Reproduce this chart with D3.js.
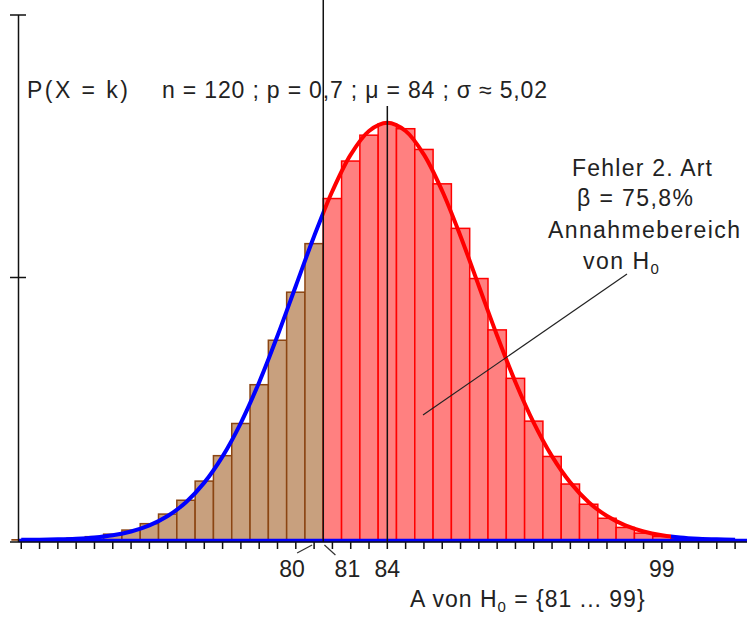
<!DOCTYPE html>
<html>
<head>
<meta charset="utf-8">
<script src="https://cdn.jsdelivr.net/npm/d3@7"></script>
<style>
  body { margin: 0; background: #fff; }
  svg { display: block; font-family: "Liberation Sans", Arial, sans-serif; }
  .lbl { font-size: 23px; fill: #222; }
</style>
</head>
<body>
<script>
(function(){
  //values of k (n = 120, p = 0.7)
  var kValues = [64, 65, 66, 67, 68, 69, 70, 71, 72, 73, 74, 75, 76, 77, 78, 79, 80, 81, 82, 83,
                 84, 85, 86, 87, 88, 89, 90, 91, 92, 93, 94, 95, 96, 97, 98, 99, 100, 101, 102, 103];
  //P(X = k), bar heights
  var pValues = [0.0000473, 0.0000951, 0.000185, 0.000348, 0.000633, 0.001112, 0.001891, 0.003108,
                 0.004935, 0.007572, 0.01122, 0.01606, 0.02219, 0.02958, 0.03805, 0.04720, 0.05645,
                 0.06504, 0.07218, 0.07711, 0.07925, 0.07834, 0.07439, 0.06784, 0.05936, 0.04980,
                 0.04002, 0.03079, 0.02264, 0.01591, 0.01066, 0.006809, 0.004137, 0.002389, 0.001308,
                 0.000678, 0.000332, 0.000154, 0.0000668, 0.0000272];
  //normal curve (mu = 84, sigma = 5.02) at each k
  var curveValues = [0.0000284, 0.0000615, 0.000128, 0.000257, 0.000494, 0.000915, 0.00163, 0.00278,
                     0.00456, 0.00720, 0.01093, 0.01593, 0.02232, 0.03006, 0.03890, 0.04839, 0.05785,
                     0.06647, 0.07341, 0.07791, 0.07947, 0.07791, 0.07341, 0.06647, 0.05785, 0.04839,
                     0.03890, 0.03006, 0.02232, 0.01593, 0.01093, 0.00720, 0.00456, 0.00278, 0.00163,
                     0.000915, 0.000494, 0.000257, 0.000128, 0.0000615];
  var yTicks = [0.05, 0.1];
  var xLabels = [80, 81, 84, 99];
  var acceptLow = 81, acceptHigh = 99, mu = 84;

  var width = 747, height = 617;

  var x = d3.scaleLinear().domain([63.85, 103.65]).range([18.5, 747]);
  var y = d3.scaleLinear().domain([0, 0.1]).range([540, 15]);
  var unit = x(1) - x(0);

  var svg = d3.select("body")
      .append("svg")
      .attr("width", width)
      .attr("height", height);

  svg.append("rect").attr("width", width).attr("height", height).attr("fill", "#fff");

  var data = kValues.map(function(k, i){ return {k: k, p: pValues[i], f: curveValues[i]}; });

  //bars, brown below the acceptance region, red inside
  svg.selectAll(".bar")
      .data(data)
      .enter()
      .append("rect")
      .attr("class", "bar")
      .attr("x", function(d){ return x(d.k - 0.5); })
      .attr("width", unit)
      .attr("y", function(d){ return y(d.p); })
      .attr("height", function(d){ return y(0) - y(d.p); })
      .attr("fill", function(d){ return d.k < acceptLow ? "#c8a07e" : "#ff8080"; })
      .attr("stroke", function(d){ return d.k < acceptLow ? "#8b4513" : "#ff0000"; })
      .attr("stroke-width", 1.5);

  //blue baseline along the axis
  svg.append("line")
      .attr("x1", x(63.85)).attr("x2", x(103.65))
      .attr("y1", y(0) + 0.5).attr("y2", y(0) + 0.5)
      .attr("stroke", "#0000ff")
      .attr("stroke-width", 3.5);

  //curve, clipped in three parts
  var defs = svg.append("defs");
  var parts = [
      {id: "clipL", from: 63.85, to: acceptLow - 0.5, color: "#0000ff"},
      {id: "clipM", from: acceptLow - 0.5, to: acceptHigh + 0.5, color: "#ff0000"},
      {id: "clipR", from: acceptHigh + 0.5, to: 103.65, color: "#0000ff"}
  ];
  var line = d3.line()
      .x(function(d){ return x(d.k); })
      .y(function(d){ return y(d.f); })
      .curve(d3.curveCatmullRom);

  parts.forEach(function(pt){
      defs.append("clipPath").attr("id", pt.id)
          .append("rect")
          .attr("x", x(pt.from)).attr("y", 0)
          .attr("width", x(pt.to) - x(pt.from)).attr("height", height);
      svg.append("path")
          .datum(data)
          .attr("d", line)
          .attr("clip-path", "url(#" + pt.id + ")")
          .attr("fill", "none")
          .attr("stroke", pt.color)
          .attr("stroke-width", 4)
          .attr("stroke-linejoin", "round");
  });

  //x axis with a tick at every k
  var xAxis = svg.append("g")
      .attr("transform", "translate(0," + 542 + ")");
  xAxis.append("line")
      .attr("x1", 10).attr("x2", width)
      .attr("stroke", "#111").attr("stroke-width", 1.5);
  xAxis.selectAll(".xt")
      .data(kValues)
      .enter()
      .append("line")
      .attr("class", "xt")
      .attr("x1", function(d){ return x(d); })
      .attr("x2", function(d){ return x(d); })
      .attr("y1", 0).attr("y2", 7)
      .attr("stroke", "#111").attr("stroke-width", 1.5);

  //y axis
  var yAxis = svg.append("g");
  yAxis.append("line")
      .attr("x1", x(63.85)).attr("x2", x(63.85))
      .attr("y1", y(0.1)).attr("y2", 542)
      .attr("stroke", "#111").attr("stroke-width", 1.5);
  yAxis.selectAll(".yt")
      .data(yTicks)
      .enter()
      .append("line")
      .attr("x1", 10).attr("x2", 26)
      .attr("y1", function(d){ return y(d); })
      .attr("y2", function(d){ return y(d); })
      .attr("stroke", "#111").attr("stroke-width", 1.5);

  //boundary of the acceptance region and the mean
  svg.append("line")
      .attr("x1", x(acceptLow - 0.5)).attr("x2", x(acceptLow - 0.5))
      .attr("y1", 0).attr("y2", 542)
      .attr("stroke", "#111").attr("stroke-width", 1.5);
  svg.append("line")
      .attr("x1", x(mu)).attr("x2", x(mu))
      .attr("y1", 106).attr("y2", 542)
      .attr("stroke", "#111").attr("stroke-width", 1.5);

  //tick labels below the axis
  svg.selectAll(".xl")
      .data(xLabels)
      .enter()
      .append("text")
      .attr("class", "lbl")
      .attr("x", function(d){
          if (d == 80) return x(d) - 22;
          if (d == 81) return x(d) + 15;
          return x(d);
      })
      .attr("y", 577)
      .attr("text-anchor", "middle")
      .text(function(d){ return d; });

  //leader lines for 80 and 81
  svg.append("line")
      .attr("x1", x(80) - 2).attr("y1", 545).attr("x2", x(80) - 17).attr("y2", 553)
      .attr("stroke", "#333").attr("stroke-width", 1.2);
  svg.append("line")
      .attr("x1", x(81) - 8).attr("y1", 545).attr("x2", x(81) + 3).attr("y2", 555)
      .attr("stroke", "#333").attr("stroke-width", 1.2);

  //title
  svg.append("text").attr("class", "lbl")
      .attr("x", 27).attr("y", 98)
      .attr("textLength", 101).attr("lengthAdjust", "spacing")
      .text("P(X = k)");
  svg.append("text").attr("class", "lbl")
      .attr("x", 162).attr("y", 98)
      .attr("textLength", 385).attr("lengthAdjust", "spacing")
      .text("n = 120 ; p = 0,7 ; \u03bc = 84 ; \u03c3 \u2248 5,02");

  //annotation
  svg.append("text").attr("class", "lbl")
      .attr("x", 572).attr("y", 176)
      .attr("textLength", 140).attr("lengthAdjust", "spacing")
      .text("Fehler 2. Art");
  svg.append("text").attr("class", "lbl")
      .attr("x", 577).attr("y", 206)
      .attr("textLength", 116).attr("lengthAdjust", "spacing")
      .text("\u03b2 = 75,8%");
  svg.append("text").attr("class", "lbl")
      .attr("x", 548).attr("y", 238)
      .attr("textLength", 192).attr("lengthAdjust", "spacing")
      .text("Annahmebereich");
  var vonH = svg.append("text").attr("class", "lbl")
      .attr("x", 583).attr("y", 269)
      .style("letter-spacing", "1.5px");
  vonH.append("tspan").text("von H");
  vonH.append("tspan").attr("dy", 5).style("font-size", "15px").text("0");

  svg.append("line")
      .attr("x1", 423).attr("y1", 415).attr("x2", 627).attr("y2", 274)
      .attr("stroke", "#222").attr("stroke-width", 1.2);

  //acceptance region label
  var aLabel = svg.append("text").attr("class", "lbl")
      .attr("x", 410).attr("y", 607)
      .style("letter-spacing", "1px");
  aLabel.append("tspan").text("A von H");
  aLabel.append("tspan").attr("dy", 5).style("font-size", "15px").text("0");
  aLabel.append("tspan").attr("dy", -5).text("  = {81 ... 99}");
})();
</script>
</body>
</html>
